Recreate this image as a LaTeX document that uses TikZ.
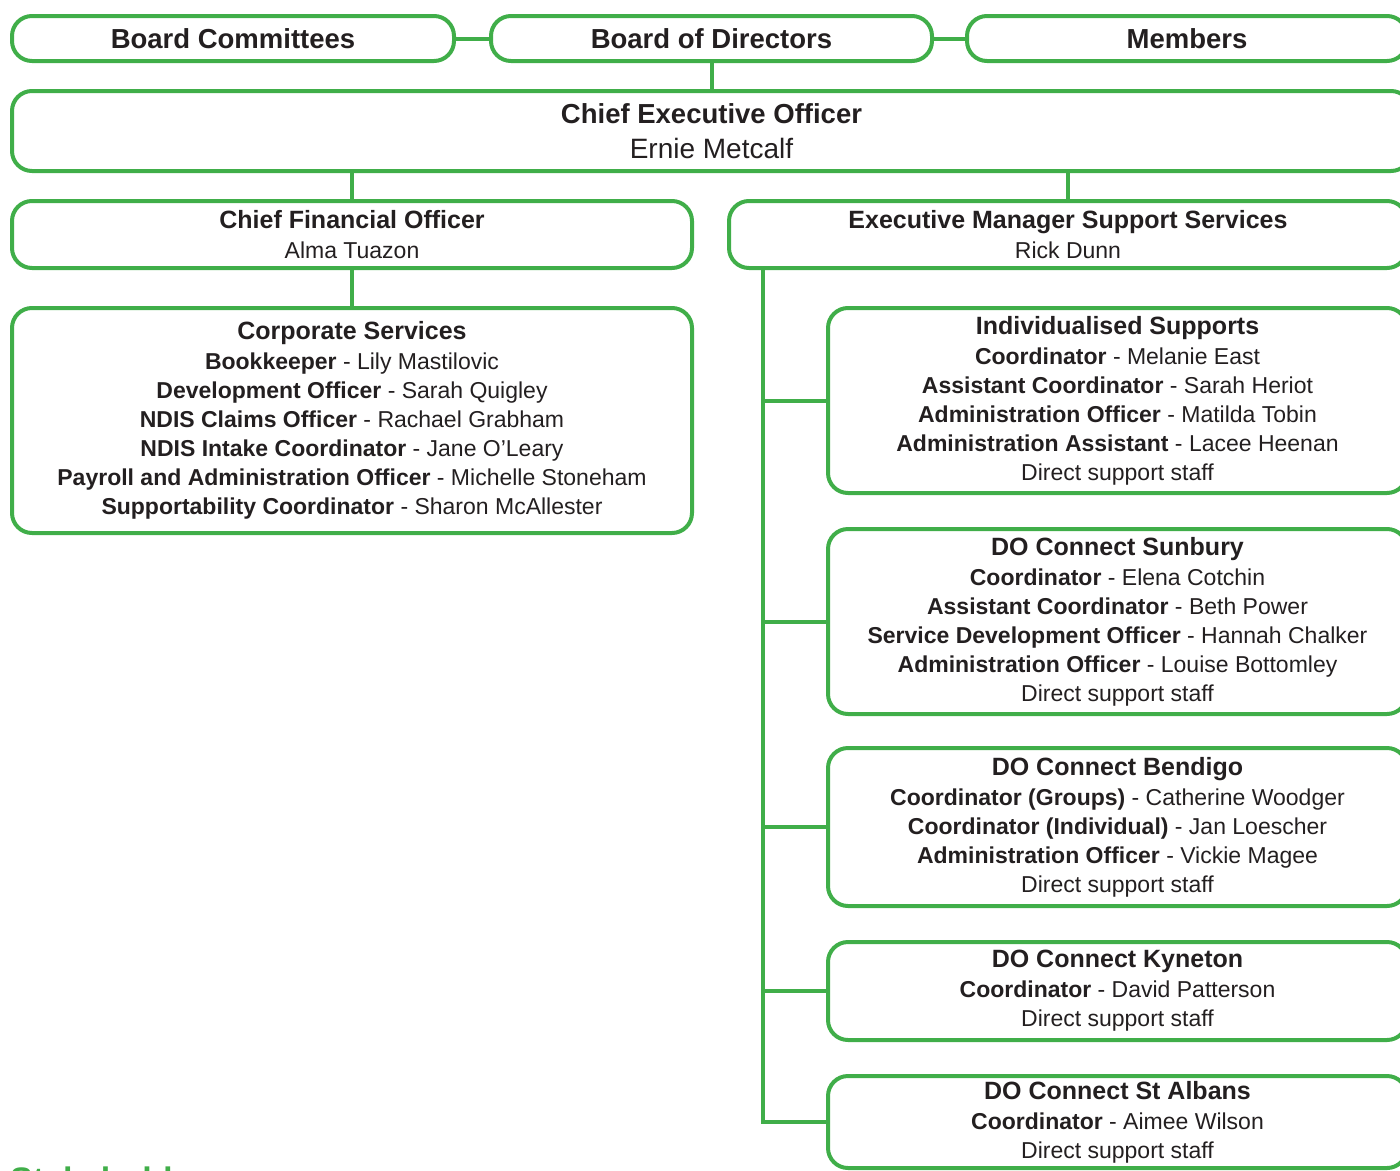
\documentclass[tikz,border=0pt]{standalone}
\usepackage{fontspec}
\setmainfont{Liberation Sans}
\usepackage{xcolor}

\definecolor{dogreen}{RGB}{64,174,73}
\definecolor{doink}{RGB}{35,31,32}

\newcommand{\unithead}[1]{{\fontsize{25}{29}\selectfont\bfseries #1}}
\newcommand{\role}[2]{\textbf{#1} - #2}

\begin{document}
\begin{tikzpicture}[x=1pt,y=-1pt]
\tikzstyle{unit}=[draw=dogreen,line width=4pt,rounded corners=20pt,anchor=north west,align=center,text=doink,inner sep=0pt,font=\fontsize{23}{29}\selectfont]
\tikzstyle{board}=[unit,minimum height=45pt,font=\fontsize{27.5}{33}\selectfont\bfseries]
\tikzstyle{link}=[draw=dogreen,line width=4pt]

\useasboundingbox (0,0) rectangle (1400,1170);

\node[board,minimum width=442pt] (bc) at (10,14) {Board Committees};
\node[board,minimum width=441pt] (bod) at (489,14) {Board of Directors};
\node[board,minimum width=440pt] (mem) at (965,14) {Members};

\node[unit,minimum width=1399pt,minimum height=80pt,font=\fontsize{28}{35}\selectfont] (ceo) at (10,89)
  {{\fontsize{27.5}{35}\selectfont\bfseries Chief Executive Officer}\\Ernie Metcalf};

\node[unit,minimum width=680pt,minimum height=67pt,font=\fontsize{23}{30}\selectfont] (cfo) at (10,199)
  {\unithead{Chief Financial Officer}\\Alma Tuazon};
\node[unit,minimum width=678pt,minimum height=67pt,font=\fontsize{23}{30}\selectfont] (emss) at (727,199)
  {\unithead{Executive Manager Support Services}\\Rick Dunn};

\node[unit,minimum width=680pt,minimum height=225pt] (corp) at (10,306)
  {\unithead{Corporate Services}\\[1pt]
   \role{Bookkeeper}{Lily Mastilovic}\\
   \role{Development Officer}{Sarah Quigley}\\
   \role{NDIS Claims Officer}{Rachael Grabham}\\
   \role{NDIS Intake Coordinator}{Jane O'Leary}\\
   \role{Payroll and Administration Officer}{Michelle Stoneham}\\
   \role{Supportability Coordinator}{Sharon McAllester}};

% support services teams
\node[unit,minimum width=579pt,minimum height=185pt] (indiv) at (826,306)
  {\unithead{Individualised Supports}\\[1pt]
   \role{Coordinator}{Melanie East}\\
   \role{Assistant Coordinator}{Sarah Heriot}\\
   \role{Administration Officer}{Matilda Tobin}\\
   \role{Administration Assistant}{Lacee Heenan}\\
   Direct support staff};
\node[unit,minimum width=579pt,minimum height=185pt] (sun) at (826,527)
  {\unithead{DO Connect Sunbury}\\[1pt]
   \role{Coordinator}{Elena Cotchin}\\
   \role{Assistant Coordinator}{Beth Power}\\
   \role{Service Development Officer}{Hannah Chalker}\\
   \role{Administration Officer}{Louise Bottomley}\\
   Direct support staff};
\node[unit,minimum width=579pt,minimum height=158pt] (ben) at (826,746)
  {\unithead{DO Connect Bendigo}\\[1pt]
   \role{Coordinator (Groups)}{Catherine Woodger}\\
   \role{Coordinator (Individual)}{Jan Loescher}\\
   \role{Administration Officer}{Vickie Magee}\\
   Direct support staff};
\node[unit,minimum width=579pt,minimum height=98pt] (kyn) at (826,940)
  {\unithead{DO Connect Kyneton}\\[1pt]
   \role{Coordinator}{David Patterson}\\
   Direct support staff};
\node[unit,minimum width=579pt,minimum height=92pt] (alb) at (826,1074)
  {\unithead{DO Connect St Albans}\\[1pt]
   \role{Coordinator}{Aimee Wilson}\\
   Direct support staff};

\node[anchor=base west,inner sep=0pt,text=dogreen,font=\fontsize{34}{40}\selectfont\bfseries] (stake) at (10,1191) {Stakeholders};

\path[link] (bc) edge (bod);
\path[link] (bod) edge (mem);
\path[link] (bod.south) edge (ceo.north);
\path[link] (cfo.north) edge (cfo.north |- ceo.south);
\path[link] (emss.north) edge (emss.north |- ceo.south);
\path[link] (cfo) edge (corp);

\coordinate (trunk) at ([xshift=36pt]emss.south west);
\draw[link] (trunk) |- (alb.west);
\foreach \team in {indiv,sun,ben,kyn}
  \draw[link] (trunk |- \team.west) -- (\team.west);
\end{tikzpicture}
\end{document}
